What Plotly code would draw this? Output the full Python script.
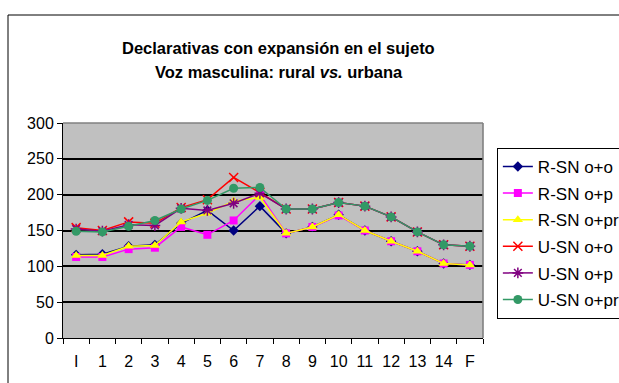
import plotly.graph_objects as go

# Categories along the utterance (initial, syllables 1-14, final)
categories = ["I", "1", "2", "3", "4", "5", "6", "7", "8", "9", "10", "11", "12", "13", "14", "F"]

# F0 values (Hz) per series
r_sn_oo = [116, 117, 128, 130, 160, 178, 150, 184, 146, 155, 172, 150, 135, 121, 104, 102]
r_sn_op = [113, 113, 124, 126, 155, 144, 164, 200, 146, 155, 171, 150, 135, 121, 104, 102]
r_sn_opr = [115, 115, 128, 129, 162, 174, 191, 196, 146, 155, 172, 150, 135, 121, 104, 102]
u_sn_oo = [154, 150, 162, 160, 182, 193, 224, 203, 180, 180, 189, 184, 169, 148, 130, 128]
u_sn_op = [152, 149, 158, 157, 181, 178, 188, 202, 180, 180, 189, 184, 169, 148, 130, 128]
u_sn_opr = [149, 148, 156, 164, 180, 192, 209, 210, 180, 180, 189, 184, 169, 148, 130, 128]

series = [
    ("R-SN o+o", r_sn_oo, "#000080", "diamond", 8, 0),
    ("R-SN o+p", r_sn_op, "#FF00FF", "square", 8, 0),
    ("R-SN o+pr", r_sn_opr, "#FFFF00", "triangle-up", 9, 0),
    ("U-SN o+o", u_sn_oo, "#FF0000", "x-thin-open", 9, 1.5),
    ("U-SN o+p", u_sn_op, "#800080", "asterisk-open", 9, 1.5),
    ("U-SN o+pr", u_sn_opr, "#339966", "circle", 9, 0),
]

fig = go.Figure()
for i, (name, vals, color, symbol, size, lw) in enumerate(series):
    marker = dict(symbol=symbol, size=size, color=color)
    if lw:
        marker["line"] = dict(color=color, width=lw)
    fig.add_trace(go.Scatter(
        x=categories, y=vals, name=name, mode="lines+markers",
        line=dict(color=color, width=1.5), marker=marker,
        legendgroup=f"g{i}",
    ))

font = "Liberation Sans, Arial, sans-serif"

fig.update_layout(
    width=619, height=383,
    margin=dict(l=63, r=136, t=123, b=45, autoexpand=False),
    paper_bgcolor="white",
    plot_bgcolor="#C0C0C0",
    font=dict(family=font, size=16, color="black"),
    showlegend=True,
    legend=dict(
        x=1.033, y=0.884, xanchor="left", yanchor="top",
        bgcolor="white", bordercolor="black", borderwidth=1,
        font=dict(family=font, size=17, color="black"),
        tracegroupgap=1.5,
    ),
    xaxis=dict(
        type="category", range=[-0.5, 15.5],
        showline=True, linecolor="black", linewidth=1,
        ticks="outside", tickson="boundaries", ticklen=5, tickcolor="black",
        showgrid=False, tickfont=dict(size=16), tickangle=0,
        ticklabelstandoff=9,
    ),
    yaxis=dict(
        range=[0, 300], dtick=50, tick0=0,
        showline=True, linecolor="black", linewidth=1,
        ticks="outside", ticklen=5, tickcolor="black",
        showgrid=True, gridcolor="black", gridwidth=1.6,
        zeroline=False, tickfont=dict(size=16),
    ),
    shapes=[
        # outer chart frame
        dict(type="rect", xref="paper", yref="paper",
             x0=(8 - 63) / 420, x1=(640 - 63) / 420,
             y0=-0.3, y1=(338 - 15) / 215,
             line=dict(color="black", width=1), layer="below"),
        # grey plot-area edges (top and right)
        dict(type="line", xref="paper", yref="paper", x0=0, x1=1, y0=1, y1=1,
             line=dict(color="#808080", width=1.6), layer="above"),
        dict(type="line", xref="paper", yref="paper", x0=1, x1=1, y0=0, y1=1,
             line=dict(color="#808080", width=1.6), layer="above"),
    ],
    annotations=[
        dict(text="<b>Declarativas con expansión en el sujeto</b>",
             xref="paper", yref="paper", x=0.514, y=(338 - 48) / 215,
             xanchor="center", yanchor="middle", showarrow=False,
             font=dict(family=font, size=16.5, color="black")),
        dict(text="<b>Voz masculina: rural <i>vs.</i> urbana</b>",
             xref="paper", yref="paper", x=0.514, y=(338 - 72) / 215,
             xanchor="center", yanchor="middle", showarrow=False,
             font=dict(family=font, size=16.5, color="black")),
    ],
)

fig.write_html("out.html")
